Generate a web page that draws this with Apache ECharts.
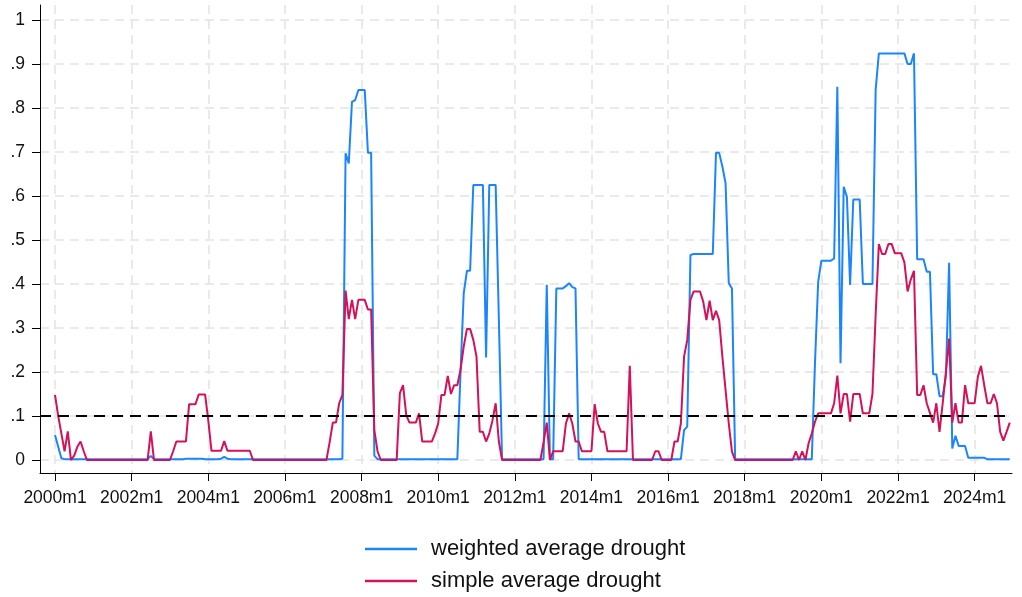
<!DOCTYPE html>
<html>
<head>
<meta charset="utf-8">
<title>drought</title>
<script src="https://cdn.jsdelivr.net/npm/echarts@6/dist/echarts.min.js"></script>
<style>
  html, body { margin: 0; padding: 0; background: #fff; }
  #chart { width: 1022px; height: 597px; }
</style>
</head>
<body>
<div id="chart"></div>
<script>
// monthly values, 2000m1 .. 2024m12 (one row per year)
const weighted = [
  0.057, 0.03, 0.004, 0.002, 0.002, 0.002, 0.002, 0.002, 0.002, 0.002, 0.002, 0.002,
  0.002, 0.002, 0.002, 0.002, 0.002, 0.002, 0.002, 0.002, 0.002, 0.002, 0.002, 0.002,
  0.002, 0.002, 0.002, 0.002, 0.002, 0.002, 0.009, 0.002, 0.002, 0.002, 0.002, 0.002,
  0.002, 0.002, 0.002, 0.002, 0.002, 0.003, 0.003, 0.003, 0.003, 0.003, 0.003, 0.002,
  0.002, 0.002, 0.002, 0.002, 0.003, 0.007, 0.003, 0.002, 0.002, 0.002, 0.002, 0.002,
  0.002, 0.002, 0.002, 0.002, 0.002, 0.002, 0.002, 0.002, 0.002, 0.002, 0.002, 0.002,
  0.002, 0.002, 0.002, 0.002, 0.002, 0.002, 0.002, 0.002, 0.002, 0.002, 0.002, 0.002,
  0.002, 0.002, 0.002, 0.002, 0.002, 0.002, 0.003, 0.697, 0.674, 0.814, 0.818, 0.841,
  0.841, 0.841, 0.698, 0.698, 0.01, 0.002, 0.002, 0.002, 0.002, 0.002, 0.002, 0.002,
  0.002, 0.002, 0.002, 0.002, 0.002, 0.002, 0.002, 0.002, 0.002, 0.002, 0.002, 0.002,
  0.002, 0.002, 0.002, 0.002, 0.002, 0.002, 0.002, 0.2, 0.379, 0.43, 0.43, 0.625,
  0.625, 0.625, 0.625, 0.233, 0.625, 0.625, 0.625, 0.32, 0.002, 0.002, 0.002, 0.002,
  0.002, 0.002, 0.002, 0.002, 0.002, 0.002, 0.002, 0.002, 0.002, 0.002, 0.398, 0.002,
  0.002, 0.39, 0.39, 0.39, 0.395, 0.402, 0.393, 0.39, 0.002, 0.002, 0.002, 0.002,
  0.002, 0.002, 0.002, 0.002, 0.002, 0.002, 0.002, 0.002, 0.002, 0.002, 0.002, 0.002,
  0.002, 0.002, 0.002, 0.002, 0.002, 0.002, 0.002, 0.002, 0.002, 0.002, 0.002, 0.002,
  0.002, 0.002, 0.002, 0.002, 0.002, 0.068, 0.076, 0.466, 0.468, 0.468, 0.468, 0.468,
  0.468, 0.468, 0.468, 0.698, 0.698, 0.667, 0.629, 0.402, 0.39, 0.002, 0.002, 0.002,
  0.002, 0.002, 0.002, 0.002, 0.002, 0.002, 0.002, 0.002, 0.002, 0.002, 0.002, 0.002,
  0.002, 0.002, 0.002, 0.002, 0.002, 0.002, 0.002, 0.002, 0.002, 0.002, 0.22, 0.405,
  0.453, 0.453, 0.453, 0.453, 0.458, 0.848, 0.22, 0.621, 0.598, 0.398, 0.592, 0.592,
  0.592, 0.4, 0.4, 0.4, 0.4, 0.841, 0.924, 0.924, 0.924, 0.924, 0.924, 0.924,
  0.924, 0.924, 0.924, 0.9, 0.9, 0.924, 0.456, 0.456, 0.456, 0.428, 0.428, 0.195,
  0.195, 0.145, 0.145, 0.19, 0.448, 0.026, 0.055, 0.032, 0.032, 0.032, 0.005, 0.005,
  0.005, 0.005, 0.005, 0.005, 0.002, 0.002, 0.002, 0.002, 0.002, 0.002, 0.002, 0.002
];

const simple = [
  0.148, 0.1, 0.06, 0.02, 0.065, 0, 0.01, 0.03, 0.042, 0.02, 0, 0,
  0, 0, 0, 0, 0, 0, 0, 0, 0, 0, 0, 0,
  0, 0, 0, 0, 0, 0, 0.065, 0, 0, 0, 0, 0,
  0, 0.02, 0.042, 0.042, 0.042, 0.042, 0.127, 0.127, 0.127, 0.149, 0.149, 0.149,
  0.09, 0.021, 0.021, 0.021, 0.021, 0.043, 0.021, 0.021, 0.021, 0.021, 0.021, 0.021,
  0.021, 0.021, 0, 0, 0, 0, 0, 0, 0, 0, 0, 0,
  0, 0, 0, 0, 0, 0, 0, 0, 0, 0, 0, 0,
  0, 0, 0.04, 0.085, 0.085, 0.129, 0.148, 0.385, 0.32, 0.364, 0.32, 0.364,
  0.364, 0.364, 0.342, 0.342, 0.068, 0.02, 0, 0, 0, 0, 0, 0,
  0.152, 0.17, 0.102, 0.085, 0.085, 0.085, 0.106, 0.042, 0.042, 0.042, 0.042, 0.06,
  0.083, 0.148, 0.148, 0.191, 0.15, 0.17, 0.17, 0.205, 0.258, 0.298, 0.298, 0.273,
  0.235, 0.064, 0.064, 0.042, 0.06, 0.09, 0.129, 0.042, 0, 0, 0, 0,
  0, 0, 0, 0, 0, 0, 0, 0, 0, 0.04, 0.085, 0,
  0.02, 0.02, 0.02, 0.02, 0.083, 0.106, 0.083, 0.042, 0.042, 0.02, 0.02, 0.02,
  0.02, 0.127, 0.083, 0.064, 0.064, 0.02, 0.02, 0.02, 0.02, 0.02, 0.02, 0.02,
  0.214, 0, 0, 0, 0, 0, 0, 0, 0.02, 0.02, 0, 0,
  0, 0, 0.042, 0.042, 0.083, 0.235, 0.273, 0.364, 0.383, 0.383, 0.383, 0.36,
  0.318, 0.362, 0.318, 0.339, 0.318, 0.235, 0.159, 0.083, 0.019, 0, 0, 0,
  0, 0, 0, 0, 0, 0, 0, 0, 0, 0, 0, 0,
  0, 0, 0, 0, 0.02, 0, 0.02, 0, 0.038, 0.06, 0.087, 0.106,
  0.106, 0.106, 0.106, 0.106, 0.129, 0.192, 0.106, 0.15, 0.15, 0.087, 0.15, 0.15,
  0.15, 0.106, 0.106, 0.106, 0.15, 0.33, 0.491, 0.468, 0.468, 0.491, 0.491, 0.47,
  0.47, 0.47, 0.449, 0.383, 0.41, 0.43, 0.148, 0.148, 0.17, 0.129, 0.107, 0.085,
  0.129, 0.064, 0.129, 0.2, 0.276, 0.085, 0.129, 0.085, 0.085, 0.17, 0.129, 0.129,
  0.129, 0.189, 0.214, 0.17, 0.129, 0.129, 0.15, 0.129, 0.064, 0.044, 0.064, 0.085
];

const seriesNames = ['weighted average drought', 'simple average drought'];
const threshold = 0.1;

// x ticks every two years (months since 2000m1)
const xTickMonths = [0, 24, 48, 72, 96, 120, 144, 168, 192, 216, 240, 264, 288];
const xTickLabels = ['2000m1', '2002m1', '2004m1', '2006m1', '2008m1', '2010m1', '2012m1',
  '2014m1', '2016m1', '2018m1', '2020m1', '2022m1', '2024m1'];
const yTickValues = [0, 0.1, 0.2, 0.3, 0.4, 0.5, 0.6, 0.7, 0.8, 0.9, 1];
const yTickLabels = ['0', '.1', '.2', '.3', '.4', '.5', '.6', '.7', '.8', '.9', '1'];

const font = 'Liberation Sans, Arial, Helvetica, sans-serif';
const gridLine = { show: true, lineStyle: { color: '#e3e3e3', width: 1.5, type: [9, 6] } };

const myChart = echarts.init(document.getElementById('chart'));
myChart.setOption({
  backgroundColor: '#fff',
  animation: false,
  grid: { left: 40, top: 5, width: 972, height: 468 },
  legend: {
    orient: 'vertical',
    left: 365,
    top: 537,
    height: 80,
    padding: 0,
    icon: 'rect',
    itemWidth: 52,
    itemHeight: 2.5,
    itemGap: 8,
    data: seriesNames,
    textStyle: { fontFamily: font, fontSize: 22, color: '#111', lineHeight: 24, padding: [0, 0, 0, 9] }
  },
  xAxis: {
    type: 'value',
    min: -4.7,
    max: 299.7,
    axisLine: { show: true, onZero: false, lineStyle: { color: '#000', width: 1 } },
    axisTick: { show: true, length: 8, customValues: xTickMonths, lineStyle: { color: '#000' } },
    axisLabel: {
      customValues: xTickMonths,
      margin: 16,
      fontFamily: font,
      fontSize: 17.5,
      color: '#111',
      formatter: v => xTickLabels[xTickMonths.indexOf(v)]
    },
    splitLine: gridLine
  },
  yAxis: {
    type: 'value',
    min: -0.0295,
    max: 1.034,
    axisLine: { show: true, onZero: false, lineStyle: { color: '#000', width: 1 } },
    axisTick: { show: true, length: 8, customValues: yTickValues, lineStyle: { color: '#000' } },
    axisLabel: {
      customValues: yTickValues,
      margin: 15,
      fontFamily: font,
      fontSize: 17.5,
      color: '#111',
      formatter: v => yTickLabels[Math.round(v * 10)]
    },
    splitLine: gridLine
  },
  series: [
    {
      name: seriesNames[0],
      type: 'line',
      data: weighted.map((v, i) => [i, v]),
      showSymbol: false,
      symbol: 'none',
      color: '#1a85ff',
      lineStyle: { width: 2 },
      markLine: {
        silent: true,
        symbol: 'none',
        label: { show: false },
        lineStyle: { color: '#000', width: 1.8, type: [11, 7] },
        data: [{ yAxis: threshold }]
      }
    },
    {
      name: seriesNames[1],
      type: 'line',
      data: simple.map((v, i) => [i, v]),
      showSymbol: false,
      symbol: 'none',
      color: '#d41159',
      lineStyle: { width: 2 }
    }
  ]
});
</script>
</body>
</html>
